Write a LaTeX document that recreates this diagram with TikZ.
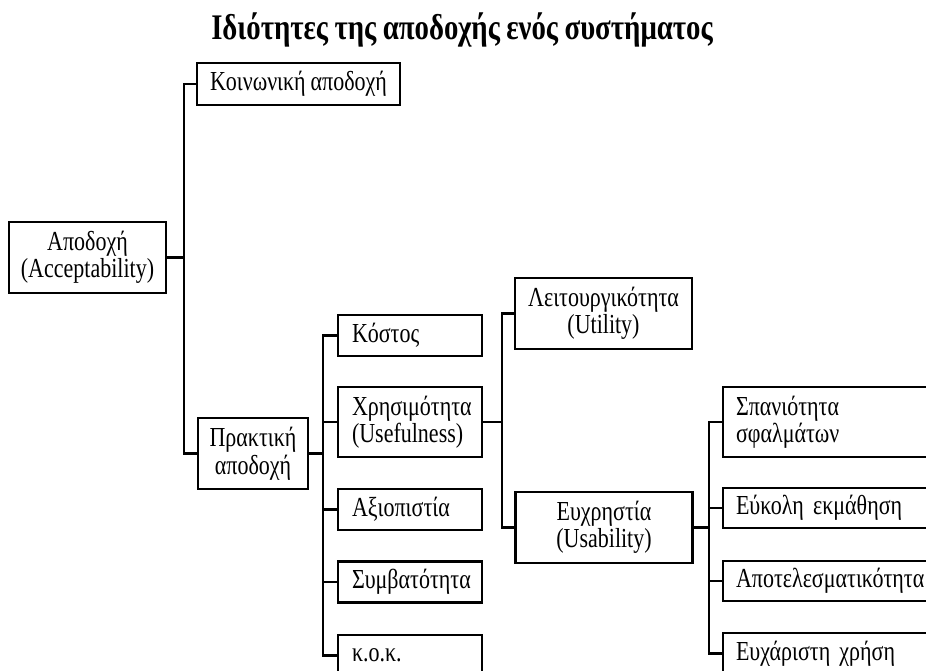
\documentclass[tikz,border=0pt]{standalone}
\usepackage{fontspec}
\setmainfont[FakeStretch=0.8, WordSpace=0.9]{Liberation Serif}
\usepackage{tikz}

\tikzset{
  box/.style={draw, line width=2.2pt, inner sep=0pt, minimum height=41pt, font=\fontsize{27.5}{27.5}\selectfont},
  cbox/.style={box, align=center},
  lbox/.style={box, align=left, inner xsep=14pt, text width=116pt},
  rbox/.style={box, align=left, inner xsep=13pt, text width=214pt},
  conn/.style={line width=2.2pt}
}

\begin{document}
\begin{tikzpicture}[x=1pt, y=-1pt]
    \useasboundingbox (0,0) rectangle (926,670);
    \clip (0,0) rectangle (926,670);
    % Nodes
    \node[font=\bfseries\fontsize{36}{36}\selectfont, anchor=base] (title) at (462,39) {Ιδιότητες της αποδοχής ενός συστήματος};
    \node[cbox, minimum width=157pt, minimum height=71pt] (acc) at (87.5,257.5) {Αποδοχή\\(Acceptability)};
    \node[cbox, minimum width=203pt, minimum height=42pt] (koin) at (298.5,84) {Κοινωνική αποδοχή};
    \node[cbox, minimum width=110pt, minimum height=71pt] (prakt) at (253,453.5) {Πρακτική\\αποδοχή};

    \node[lbox] (kostos) at (410,335.5) {Κόστος};
    \node[lbox, minimum height=70pt] (xrisi) at (410,422) {Χρησιμότητα\\(Usefulness)};
    \node[lbox] (axio) at (410,509.5) {Αξιοπιστία};
    \node[lbox] (symv) at (410,582) {Συμβατότητα};
    \node[lbox] (kok) at (410,655.5) {κ.ο.κ.};

    \node[cbox, minimum width=177pt, minimum height=71pt] (leit) at (603.5,313.5) {Λειτουργικότητα\\(Utility)};
    \node[cbox, minimum width=177pt, minimum height=71pt] (euxr) at (604,527.5) {Ευχρηστία\\(Usability)};

    \node[rbox, minimum height=70pt] (span) at (843,422) {Σπανιότητα\\σφαλμάτων};
    \node[rbox, minimum height=40pt] (eukol) at (843,508) {Εύκολη εκμάθηση};
    \node[rbox, minimum height=40pt] (apot) at (843,581) {Αποτελεσματικότητα};
    \node[rbox] (euxar) at (843,653.5) {Ευχάριστη χρήση};

    \coordinate (b1) at (184,0);
    \coordinate (b2) at (323,0);
    \coordinate (b3) at (502,0);
    \coordinate (b4) at (709,0);

    % Lines
    \draw[conn] (acc.east) -- (acc.east -| b1);
    \draw[conn] (koin.west) -| (b1 |- prakt.west) -- (prakt.west);

    \draw[conn] (prakt.east) -- (prakt.east -| b2);
    \draw[conn] (kostos.west) -| (b2 |- kok.west) -- (kok.west);
    \foreach \n in {xrisi,axio,symv}
        \draw[conn] (\n.west) -- (\n.west -| b2);

    \draw[conn] (xrisi.east) -- (xrisi.east -| b3);
    \draw[conn] (leit.west) -| (b3 |- euxr.west) -- (euxr.west);

    \draw[conn] (euxr.east) -- (euxr.east -| b4);
    \draw[conn] (span.west) -| (b4 |- euxar.west) -- (euxar.west);
    \foreach \n in {eukol,apot}
        \draw[conn] (\n.west) -- (\n.west -| b4);
\end{tikzpicture}
\end{document}
